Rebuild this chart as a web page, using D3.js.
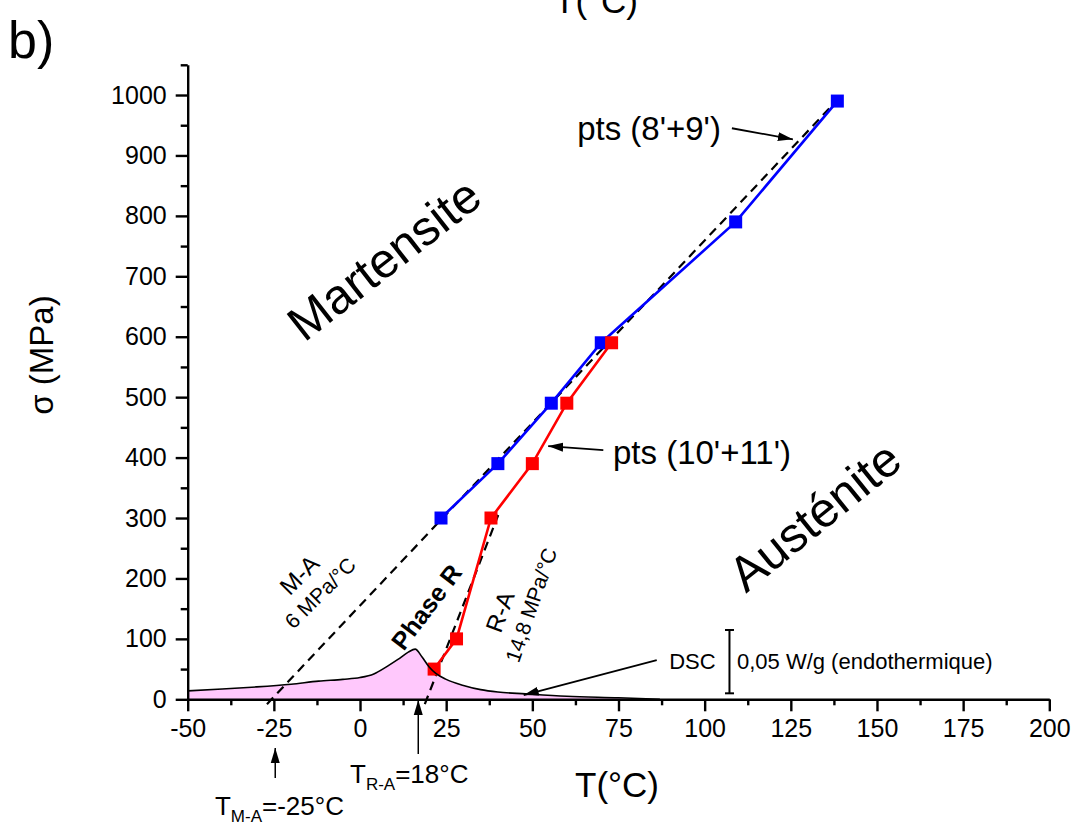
<!DOCTYPE html>
<html>
<head>
<meta charset="utf-8">
<script src="https://cdn.jsdelivr.net/npm/d3@7"></script>
<style>
  html, body { margin: 0; padding: 0; background: #fff; }
  svg { display: block; font-family: "Liberation Sans", Arial, sans-serif; }
</style>
</head>
<body>
<svg id="chart" width="1076" height="827"></svg>
<script>
// ---------- data ----------
const tempTicks = [-50, -25, 0, 25, 50, 75, 100, 125, 150, 175, 200];
const tempMinorTicks = [-37.5, -12.5, 12.5, 37.5, 62.5, 87.5, 112.5, 137.5, 162.5, 187.5];
const stressTicks = [0, 100, 200, 300, 400, 500, 600, 700, 800, 900, 1000];
const stressMinorTicks = [50, 150, 250, 350, 450, 550, 650, 750, 850, 950, 1050];

// blue series: points (8'+9')
const blueT = [23.5, 40, 55.5, 70, 109, 138.5];
const blueS = [300, 390, 490, 590, 790, 990];
// red series: points (10'+11')
const redT = [21.5, 28, 38, 50, 60, 73];
const redS = [50, 100, 300, 390, 490, 590];

// DSC curve (drawn in stress units of the plot)
const dscT = [-50, -40, -30, -20, -12, -5, 0, 4, 8, 11, 14, 16, 18, 20, 22, 25, 30, 35, 40, 48, 60, 75, 87];
const dscS = [14, 17, 20.5, 25, 30, 33, 36, 42, 55, 66, 78, 83, 70, 54, 43, 33, 23, 16, 12, 9, 5, 2.5, 0];

// dashed fits
const maLineT = [-27, 139.5];   // M-A, 6 MPa/°C
const maLineS = [-8, 998];
const raLineT = [18.8, 40.1];   // R-A, 14,8 MPa/°C
const raLineS = [-8, 305];

// ---------- setup ----------
const svg = d3.select("#chart");
const x = d3.scaleLinear().domain([-50, 200]).range([187.7, 1049.3]);
const y = d3.scaleLinear().domain([0, 1050]).range([699.3, 64.8]);
const FONT = '"Liberation Sans", Arial, sans-serif';

// arrow marker
const defs = svg.append("defs");
defs.append("marker")
  .attr("id", "arrow")
  .attr("markerUnits", "userSpaceOnUse")
  .attr("markerWidth", 16).attr("markerHeight", 10)
  .attr("refX", 15).attr("refY", 5)
  .attr("orient", "auto")
  .append("path").attr("d", "M0,0.5 L15,5 L0,9.5 Z").attr("fill", "#000");

// ---------- DSC fill ----------
const dscData = dscT.map((t, i) => ({ t, s: dscS[i] }));
const area = d3.area().x(d => x(d.t)).y0(y(0)).y1(d => y(d.s)).curve(d3.curveMonotoneX);
svg.append("path").datum(dscData).attr("d", area).attr("fill", "#ffc8fc").attr("stroke", "none");
svg.append("line").attr("x1", x(dscT[0])).attr("x2", x(dscT[0]))
  .attr("y1", y(0)).attr("y2", y(dscS[0])).attr("stroke", "#000").attr("stroke-width", 1.2);

// ---------- dashed fits ----------
const lineGen = d3.line().x(d => x(d[0])).y(d => y(d[1]));
svg.append("path").datum(maLineT.map((t, i) => [t, maLineS[i]]))
  .attr("d", lineGen).attr("fill", "none").attr("stroke", "#000")
  .attr("stroke-width", 2.2).attr("stroke-dasharray", "9,6");
svg.append("path").datum(raLineT.map((t, i) => [t, raLineS[i]]))
  .attr("d", lineGen).attr("fill", "none").attr("stroke", "#000")
  .attr("stroke-width", 2.2).attr("stroke-dasharray", "9,6");

// ---------- series ----------
function drawSeries(T, S, color) {
  const pts = T.map((t, i) => [t, S[i]]);
  svg.append("path").datum(pts).attr("d", lineGen)
    .attr("fill", "none").attr("stroke", color).attr("stroke-width", 2.6);
  svg.append("g").selectAll("rect").data(pts).join("rect")
    .attr("x", d => x(d[0]) - 6.5).attr("y", d => y(d[1]) - 6.5)
    .attr("width", 13).attr("height", 13).attr("fill", color);
}
drawSeries(blueT, blueS, "#0000ff");
drawSeries(redT, redS, "#ff0000");

// DSC outline on top
const dscLine = d3.line().x(d => x(d.t)).y(d => y(d.s)).curve(d3.curveMonotoneX);
svg.append("path").datum(dscData).attr("d", dscLine)
  .attr("fill", "none").attr("stroke", "#000").attr("stroke-width", 1.6);

// ---------- axes ----------
function styleAxis(g) {
  g.selectAll("path.domain").attr("stroke", "#000").attr("stroke-width", 2.4);
  g.selectAll(".tick line").attr("stroke", "#000").attr("stroke-width", 2.4);
  g.selectAll(".tick text").attr("fill", "#000").attr("font-family", FONT).attr("font-size", 25);
}
const fmt = d => String(d);
const xAxis = svg.append("g").attr("transform", `translate(0,${y(0)})`)
  .call(d3.axisBottom(x).tickValues(tempTicks).tickSize(12).tickSizeOuter(0).tickPadding(8).tickFormat(fmt));
styleAxis(xAxis);
const xMinor = svg.append("g").attr("transform", `translate(0,${y(0)})`)
  .call(d3.axisBottom(x).tickValues(tempMinorTicks).tickSize(6).tickFormat(""));
styleAxis(xMinor);
xMinor.select("path.domain").remove();

const yAxis = svg.append("g").attr("transform", `translate(${x(-50)},0)`)
  .call(d3.axisLeft(y).tickValues(stressTicks).tickSize(12).tickSizeOuter(0).tickPadding(9).tickFormat(fmt));
styleAxis(yAxis);
const yMinor = svg.append("g").attr("transform", `translate(${x(-50)},0)`)
  .call(d3.axisLeft(y).tickValues(stressMinorTicks).tickSize(7).tickFormat(""));
styleAxis(yMinor);
yMinor.select("path.domain").remove();

// ---------- texts ----------
function txt(px, py, str, opts = {}) {
  const t = svg.append("text")
    .attr("x", px).attr("y", py)
    .attr("font-family", FONT)
    .attr("font-size", opts.size || 22)
    .attr("font-weight", opts.weight || "normal")
    .attr("text-anchor", opts.anchor || "start")
    .attr("fill", "#000")
    .text(str);
  if (opts.baseline) t.attr("dominant-baseline", opts.baseline);
  if (opts.rotate !== undefined) t.attr("transform", `rotate(${opts.rotate},${px},${py})`);
  return t;
}

// axis titles
txt(41, 355, "σ (MPa)", { size: 33, anchor: "middle", baseline: "central", rotate: -90 });
txt(617, 797, "T(°C)", { size: 35, anchor: "middle" });
// cut-off title from the panel above
txt(596, 13, "T(°C)", { size: 35, anchor: "middle" });
// panel letter
txt(8, 58, "b)", { size: 52 });

// phase labels
txt(x(10), y(706), "Martensite", { size: 49, anchor: "middle", rotate: -38 });
txt(x(135), y(281), "Austénite", { size: 49, anchor: "middle", rotate: -39 });

// fit labels
txt(x(-17.6), y(206), "M-A", { size: 24, anchor: "middle", baseline: "central", rotate: -45 });
txt(x(-11.6), y(176), "6 MPa/°C", { size: 21, anchor: "middle", baseline: "central", rotate: -45 });
txt(x(19.2), y(153), "Phase R", { size: 25, weight: "bold", anchor: "middle", baseline: "central", rotate: -53 });
txt(x(40.6), y(145), "R-A", { size: 24, anchor: "middle", baseline: "central", rotate: -70 });
txt(x(49.6), y(156), "14,8 MPa/°C", { size: 21, anchor: "middle", baseline: "central", rotate: -71 });

// point labels + arrows
txt(x(63), y(925), "pts (8'+9')", { size: 33 });
svg.append("line").attr("x1", x(107.9)).attr("y1", y(945)).attr("x2", x(125.6)).attr("y2", y(926.7))
  .attr("stroke", "#000").attr("stroke-width", 1.8).attr("marker-end", "url(#arrow)");
txt(x(73.4), y(389), "pts (10'+11')", { size: 33 });
svg.append("line").attr("x1", x(70.6)).attr("y1", y(412.5)).attr("x2", x(54.6)).attr("y2", y(419))
  .attr("stroke", "#000").attr("stroke-width", 1.8).attr("marker-end", "url(#arrow)");

// DSC label, arrow and scale bar
txt(x(89.7), y(49.6), "DSC", { size: 22 });
svg.append("line").attr("x1", x(86.1)).attr("y1", y(65)).attr("x2", x(47.5)).attr("y2", y(7))
  .attr("stroke", "#000").attr("stroke-width", 1.8).attr("marker-end", "url(#arrow)");
const barX = x(107.2), barTop = y(114.7), barBot = y(9.9);
svg.append("line").attr("x1", barX).attr("x2", barX).attr("y1", barTop).attr("y2", barBot)
  .attr("stroke", "#000").attr("stroke-width", 2);
[barTop, barBot].forEach(yy => svg.append("line").attr("x1", barX - 4.5).attr("x2", barX + 4.5)
  .attr("y1", yy).attr("y2", yy).attr("stroke", "#000").attr("stroke-width", 2));
txt(barX + 7.5, y(49.6), "0,05 W/g (endothermique)", { size: 22 });

// transition temperatures
const tMA = txt(x(-42.1), 815, "T", { size: 26 });
tMA.append("tspan").attr("font-size", 17).attr("dy", 7).text("M-A");
tMA.append("tspan").attr("dy", -7).text("=-25°C");
svg.append("line").attr("x1", x(-24.6)).attr("x2", x(-24.6)).attr("y1", 778).attr("y2", 748)
  .attr("stroke", "#000").attr("stroke-width", 1.5).attr("marker-end", "url(#arrow)");

const tRA = txt(x(-2.9), 783, "T", { size: 26 });
tRA.append("tspan").attr("font-size", 17).attr("dy", 7).text("R-A");
tRA.append("tspan").attr("dy", -7).text("=18°C");
svg.append("line").attr("x1", x(16.9)).attr("x2", x(16.9)).attr("y1", 754).attr("y2", 700)
  .attr("stroke", "#000").attr("stroke-width", 1.5).attr("marker-end", "url(#arrow)");
</script>
</body>
</html>
